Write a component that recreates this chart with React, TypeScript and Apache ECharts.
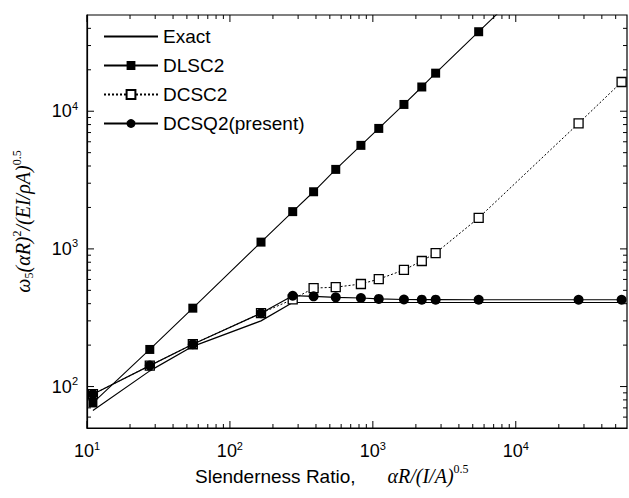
import React, { useEffect, useRef } from "react";
import * as echarts from "echarts";

const xValues = [11, 27.5, 55, 165, 275, 385, 550, 825, 1100, 1650, 2200, 2750, 5500, 27500, 55000];
const exactX = [11, 27.5, 55, 165, 275, 55000];
const exactY = [67, 130, 196, 300, 408, 408];
const dlscX = [11, 27.5, 55, 165, 275, 385, 550, 825, 1100, 1650, 2200, 2750, 5500, 27500];
const dlscY = [76, 186, 371, 1120, 1865, 2600, 3780, 5650, 7500, 11200, 15000, 18900, 37800, 189000];
const dcscY = [88, 142, 203, 341, 430, 519, 527, 556, 603, 703, 817, 933, 1680, 8170, 16300];
const dcsqY = [88, 142, 203, 341, 457, 452, 445, 440, 433, 429, 428, 428, 427, 427, 427];

const X_MIN = 10;
const X_MAX = 60000;
const Y_MIN = 50;
const Y_MAX = 50000;
const xMajor = [10, 100, 1000, 10000];
const yMajor = [100, 1000, 10000];
const xMinor = [20, 30, 40, 50, 60, 70, 80, 90, 200, 300, 400, 500, 600, 700, 800, 900, 2000, 3000, 4000, 5000, 6000, 7000, 8000, 9000, 20000, 30000, 40000, 50000];
const yMinor = [60, 70, 80, 90, 200, 300, 400, 500, 600, 700, 800, 900, 2000, 3000, 4000, 5000, 6000, 7000, 8000, 9000, 20000, 30000, 40000];

const SANS = "'Liberation Sans', Arial, sans-serif";
const SERIF = "'Liberation Serif', 'Times New Roman', serif";

const pairs = (xs: number[], ys: number[]) => xs.map((x, i) => [x, ys[i]]);

const powLabel = (v: number) => {
  const e = Math.log10(v);
  if (Math.abs(e - Math.round(e)) > 1e-6) return "";
  return `{b|10}{s|${Math.round(e)}}`;
};

const labelRich = {
  b: { fontSize: 18, fontFamily: SANS, color: "#000", lineHeight: 22 },
  s: { fontSize: 11, fontFamily: SANS, color: "#000", verticalAlign: "top", lineHeight: 12 },
};

export default function App() {
  const ref = useRef<HTMLDivElement>(null);
  useEffect(() => {
    if (!ref.current) return;
    const chart = echarts.init(ref.current, null, { renderer: "svg" });
    const tickSeries = {
      type: "custom",
      name: "ticks",
      silent: true,
      z: 10,
      data: [[100, 100]],
      renderItem: (_p: any, api: any) => {
        const children: any[] = [];
        const st = { stroke: "#000", lineWidth: 1 };
        const addX = (v: number, len: number) => {
          const b = api.coord([v, Y_MIN]);
          const t = api.coord([v, Y_MAX]);
          children.push({ type: "line", shape: { x1: b[0], y1: b[1], x2: b[0], y2: b[1] - len }, style: st });
          children.push({ type: "line", shape: { x1: t[0], y1: t[1], x2: t[0], y2: t[1] + len }, style: st });
        };
        const addY = (v: number, len: number) => {
          const l = api.coord([X_MIN, v]);
          const r = api.coord([X_MAX, v]);
          children.push({ type: "line", shape: { x1: l[0], y1: l[1], x2: l[0] + len, y2: l[1] }, style: st });
          children.push({ type: "line", shape: { x1: r[0], y1: r[1], x2: r[0] - len, y2: r[1] }, style: st });
        };
        xMajor.forEach((v) => addX(v, 7));
        xMinor.forEach((v) => addX(v, 4));
        yMajor.forEach((v) => addY(v, 7));
        yMinor.forEach((v) => addY(v, 4));
        return { type: "group", children };
      },
    };
    chart.setOption({
      animation: false,
      backgroundColor: "#fff",
      grid: { left: 87, right: 2, top: 15, bottom: 70, show: true, borderColor: "#000", borderWidth: 1.2 },
      legend: {
        data: [
          { name: "Exact", itemStyle: { opacity: 0 } },
          "DLSC2",
          "DCSC2",
          "DCSQ2(present)",
        ],
        orient: "vertical",
        left: 103,
        top: 27,
        padding: 0,
        itemWidth: 54,
        itemHeight: 11,
        itemGap: 10,
        textStyle: { fontSize: 19, fontFamily: SANS, color: "#000", padding: [0, 0, 0, 0] },
      },
      xAxis: {
        type: "log",
        logBase: 10,
        min: X_MIN,
        max: X_MAX,
        axisLine: { show: true, lineStyle: { color: "#000", width: 1.2 } },
        axisTick: { show: false },
        splitLine: { show: false },
        axisLabel: { formatter: powLabel, rich: labelRich, margin: 12, showMinLabel: true, showMaxLabel: false },
      },
      yAxis: {
        type: "log",
        logBase: 10,
        min: Y_MIN,
        max: Y_MAX,
        axisLine: { show: true, lineStyle: { color: "#000", width: 1.2 } },
        axisTick: { show: false },
        splitLine: { show: false },
        axisLabel: { formatter: powLabel, rich: labelRich, margin: 9, showMinLabel: false, showMaxLabel: false },
        name: "{i|ω}{sub|5}{i|(αR)}{sup|2}{i|/(EI/ρA)}{sup|0.5}",
        nameLocation: "middle",
        nameGap: 52,
        nameTextStyle: {
          color: "#000",
          fontFamily: SERIF,
          fontSize: 20,
          rich: {
            i: { fontFamily: SERIF, fontStyle: "italic", fontSize: 20, color: "#000", lineHeight: 24 },
            sub: { fontFamily: SERIF, fontSize: 12, color: "#000", verticalAlign: "bottom", lineHeight: 12 },
            sup: { fontFamily: SERIF, fontSize: 12, color: "#000", verticalAlign: "top", lineHeight: 12 },
          },
        },
      },
      graphic: [
        {
          type: "text",
          left: 195,
          top: 463,
          style: {
            text: "{n|Slenderness Ratio,}{g| }{i|αR/(I/A)}{sup|0.5}",
            fill: "#000",
            rich: {
              n: { fontFamily: SANS, fontSize: 19, color: "#000", lineHeight: 26 },
              g: { fontFamily: SANS, fontSize: 19, width: 32 },
              i: { fontFamily: SERIF, fontStyle: "italic", fontSize: 20, color: "#000", lineHeight: 26 },
              sup: { fontFamily: SERIF, fontSize: 12, color: "#000", verticalAlign: "top", lineHeight: 12 },
            },
          },
        },
      ],
      series: [
        {
          name: "Exact",
          type: "line",
          data: pairs(exactX, exactY),
          showSymbol: false,
          symbol: "none",
          lineStyle: { color: "#000", width: 1.2 },
          itemStyle: { color: "#000" },
        },
        {
          name: "DLSC2",
          type: "line",
          data: pairs(dlscX, dlscY),
          symbol: "rect",
          symbolSize: 9,
          lineStyle: { color: "#000", width: 1.1 },
          itemStyle: { color: "#000" },
        },
        {
          name: "DCSC2",
          type: "line",
          data: pairs(xValues, dcscY),
          symbol: "rect",
          symbolSize: 9,
          lineStyle: { color: "#000", width: 1, type: [2, 2] },
          itemStyle: { color: "#fff", borderColor: "#000", borderWidth: 1.3 },
        },
        {
          name: "DCSQ2(present)",
          type: "line",
          data: pairs(xValues, dcsqY),
          symbol: "circle",
          symbolSize: 10,
          lineStyle: { color: "#000", width: 1.2 },
          itemStyle: { color: "#000" },
        },
        tickSeries,
      ],
    } as any);
    return () => chart.dispose();
  }, []);
  return <div ref={ref} style={{ width: 629, height: 498, position: "absolute", left: 0, top: 0 }} />;
}
